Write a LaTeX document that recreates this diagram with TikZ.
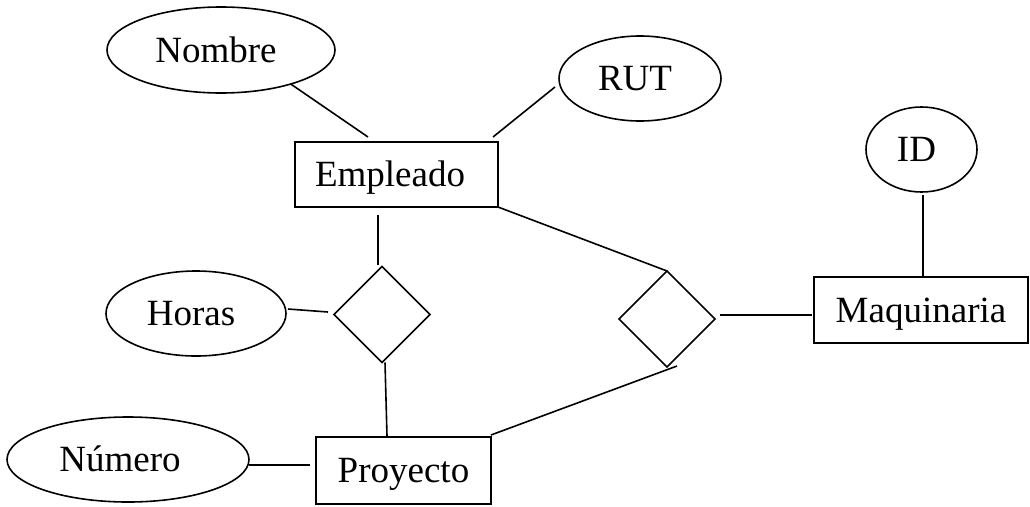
\documentclass[tikz,border=0pt]{standalone}
\usepackage{fontspec}
\setmainfont{Liberation Serif}
\usetikzlibrary{shapes.geometric,calc}

\begin{document}
\begin{tikzpicture}[x=1pt,y=-1pt,
  every node/.style={inner sep=0pt,outer sep=0pt,font=\fontsize{37}{40}\selectfont,
    text height=24.5pt,text depth=0pt},
  entity/.style={draw,line width=1.6pt,rectangle},
  attr/.style={draw,line width=1.6pt,ellipse},
  rel/.style={draw,line width=1.6pt,diamond,minimum width=96pt,minimum height=96pt},
  link/.style={line width=1.6pt}]
  \useasboundingbox (0,0) rectangle (1030,506);

  % entities (trailing space nudges the label a little to the left)
  \node[entity,minimum width=203pt,minimum height=65pt] (Empleado) at (396.5,174.5) {Empleado\hspace*{13pt}};
  \node[entity,minimum width=175pt,minimum height=67pt] (Proyecto) at (403.5,470.5) {Proyecto};
  \node[entity,minimum width=214pt,minimum height=66pt] (Maquinaria) at (921,310) {Maquinaria};

  % attributes
  \node[attr,minimum width=228pt,minimum height=86pt] (Nombre) at (221,50) {Nombre\hspace*{10pt}};
  \node[attr,minimum width=162pt,minimum height=85pt] (RUT) at (640,78.5) {RUT\hspace*{10pt}};
  \node[attr,minimum width=111pt,minimum height=85pt] (ID) at (921.5,149.5) {ID\hspace*{10pt}};
  \node[attr,minimum width=180pt,minimum height=85pt] (Horas) at (196,313.5) {Horas\hspace*{10pt}};
  \node[attr,minimum width=242pt,minimum height=85pt] (Numero) at (128,459.5) {Número\hspace*{16pt}};

  % relationships
  \node[rel] (Trabaja) at (382,314.5) {};
  \node[rel] (Usa) at (667,319) {};

  % connectors
  \draw[link] (Nombre.-26) -- ($(Empleado.north)+(-28.5,-5)$);
  \draw[link] ($(RUT.west)+(-4,8.5)$) -- ($(Empleado.north east)+(-5,-5)$);
  \draw[link] ($(Empleado.south)+(-18.5,8)$) -- ($(Trabaja.north)+(-4,-1.5)$);
  \draw[link] (Empleado.south east) -- (Usa.north);
  \draw[link] ($(Horas.east)+(2,-4.5)$) -- ($(Trabaja.west)+(-6,-2.5)$);
  \draw[link] ($(Trabaja.south)+(3,0)$) -- ($(Proyecto.north)+(-16.5,-1)$);
  \draw[link] ($(Numero.east)+(0,5.5)$) -- ($(Proyecto.west)+(-6,-5.5)$);
  \draw[link] ($(Proyecto.north east)+(0,-2)$) -- ($(Usa.south)+(10,-1)$);
  \draw[link] ($(Usa.east)+(5,-4)$) -- ($(Maquinaria.west)+(-2,5)$);
  \draw[link] ($(ID.south)+(1.5,3)$) -- ($(Maquinaria.north)+(2,-1)$);
\end{tikzpicture}
\end{document}
